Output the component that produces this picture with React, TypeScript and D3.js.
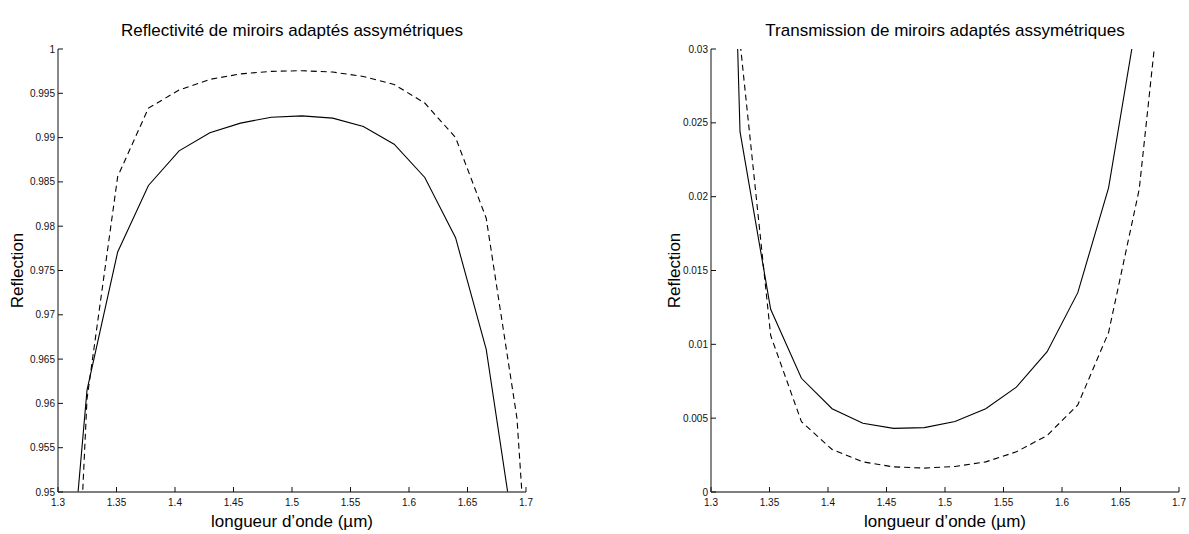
import React from "react";
import * as d3 from "d3";

// wavelength samples (µm)
const wavelengths = [1.2985, 1.3248, 1.351, 1.3773, 1.4035, 1.4298, 1.456, 1.4823, 1.5085, 1.5348, 1.561, 1.5873, 1.6135, 1.6398, 1.666, 1.6923, 1.7185];

// left panel: reflectivity
const reflSolid = [0.922, 0.9615, 0.9771, 0.9846, 0.9885, 0.99055, 0.99163, 0.9923, 0.99245, 0.9922, 0.99125, 0.98925, 0.9855, 0.9787, 0.9661, 0.943, 0.90];
const reflDashed = [0.886, 0.9605, 0.9856, 0.99333, 0.99537, 0.99657, 0.99719, 0.99748, 0.99755, 0.9974, 0.9969, 0.996, 0.9939, 0.99, 0.9809, 0.9583, 0.906];

// right panel: transmission
const transSolid = [0.098, 0.0244, 0.01237, 0.0077, 0.00564, 0.00465, 0.00431, 0.00436, 0.00478, 0.00564, 0.0071, 0.0095, 0.0135, 0.0206, 0.033, 0.06, 0.1];
const transDashed = [0.1, 0.0305, 0.0106, 0.00476, 0.00288, 0.00204, 0.0017, 0.00162, 0.00173, 0.00204, 0.00272, 0.00383, 0.0059, 0.0108, 0.0205, 0.04, 0.08];

const xTicks = [1.3, 1.35, 1.4, 1.45, 1.5, 1.55, 1.6, 1.65, 1.7];
const xTickLabels = ["1.3", "1.35", "1.4", "1.45", "1.5", "1.55", "1.6", "1.65", "1.7"];
const reflTicks = [0.95, 0.955, 0.96, 0.965, 0.97, 0.975, 0.98, 0.985, 0.99, 0.995, 1];
const reflTickLabels = ["0.95", "0.955", "0.96", "0.965", "0.97", "0.975", "0.98", "0.985", "0.99", "0.995", "1"];
const transTicks = [0, 0.005, 0.01, 0.015, 0.02, 0.025, 0.03];
const transTickLabels = ["0", "0.005", "0.01", "0.015", "0.02", "0.025", "0.03"];

const titles = ["Reflectivité de miroirs adaptés assymétriques", "Transmission de miroirs adaptés assymétriques"];
const xLabel = "longueur d\u2019onde (\u00b5m)";
const yLabel = "Reflection";

const FONT = "'Liberation Sans', Arial, Helvetica, sans-serif";

type PanelProps = {
  id: string;
  left: number;
  title: string;
  yDomain: [number, number];
  yTicks: number[];
  yTickLabels: string[];
  solid: number[];
  dashed: number[];
  yLabelX: number;
};

function Panel({ id, left, title, yDomain, yTicks, yTickLabels, solid, dashed, yLabelX }: PanelProps) {
  const top = 49;
  const width = 468;
  const height = 443;
  const x = d3.scaleLinear().domain([1.3, 1.7]).range([left, left + width]);
  const y = d3.scaleLinear().domain(yDomain).range([top + height, top]);
  const line = (vals: number[]) =>
    d3.line<number>().x((_, i) => x(wavelengths[i])).y((v) => y(v))(vals) || "";
  const bottom = top + height;
  const tickLen = 5;
  return (
    <g>
      <defs>
        <clipPath id={id}>
          <rect x={left} y={top} width={width} height={height} />
        </clipPath>
      </defs>
      <g clipPath={`url(#${id})`}>
        <path d={line(solid)} fill="none" stroke="#000" strokeWidth={1.1} />
        <path d={line(dashed)} fill="none" stroke="#000" strokeWidth={1.1} strokeDasharray="6,4" />
      </g>
      {/* axes */}
      <line x1={left} x2={left} y1={top} y2={bottom} stroke="#111" strokeWidth={1} />
      <line x1={left} x2={left + width} y1={bottom} y2={bottom} stroke="#555" strokeWidth={1.6} />
      {yTicks.map((t, i) => (
        <g key={"y" + i}>
          <line x1={left} x2={left + tickLen} y1={y(t)} y2={y(t)} stroke="#111" strokeWidth={1} />
          <text x={left - 3} y={y(t)} dy="0.35em" textAnchor="end" fontSize={10} fontFamily={FONT} fill="#111">
            {yTickLabels[i]}
          </text>
        </g>
      ))}
      {xTicks.map((t, i) => (
        <g key={"x" + i}>
          <line x1={x(t)} x2={x(t)} y1={bottom} y2={bottom - tickLen} stroke="#111" strokeWidth={1} />
          <text x={x(t)} y={bottom + 14} textAnchor="middle" fontSize={10} fontFamily={FONT} fill="#111">
            {xTickLabels[i]}
          </text>
        </g>
      ))}
      <text x={left + width / 2} y={36} textAnchor="middle" fontSize={17} fontFamily={FONT} fill="#000">
        {title}
      </text>
      <text x={left + width / 2} y={527} textAnchor="middle" fontSize={17} fontFamily={FONT} fill="#000">
        {xLabel}
      </text>
      <text
        transform={`translate(${yLabelX},${top + height / 2}) rotate(-90)`}
        textAnchor="middle"
        fontSize={17}
        fontFamily={FONT}
        fill="#000"
      >
        {yLabel}
      </text>
    </g>
  );
}

export default function App() {
  return (
    <svg
      width={1189}
      height={534}
      style={{ position: "absolute", left: 0, top: 0, background: "#fff" }}
    >
      <rect x={0} y={0} width={1189} height={534} fill="#fff" />
      <Panel
        id="clipL"
        left={58}
        title={titles[0]}
        yDomain={[0.95, 1]}
        yTicks={reflTicks}
        yTickLabels={reflTickLabels}
        solid={reflSolid}
        dashed={reflDashed}
        yLabelX={23}
      />
      <Panel
        id="clipR"
        left={711}
        title={titles[1]}
        yDomain={[0, 0.03]}
        yTicks={transTicks}
        yTickLabels={transTickLabels}
        solid={transSolid}
        dashed={transDashed}
        yLabelX={680}
      />
    </svg>
  );
}
